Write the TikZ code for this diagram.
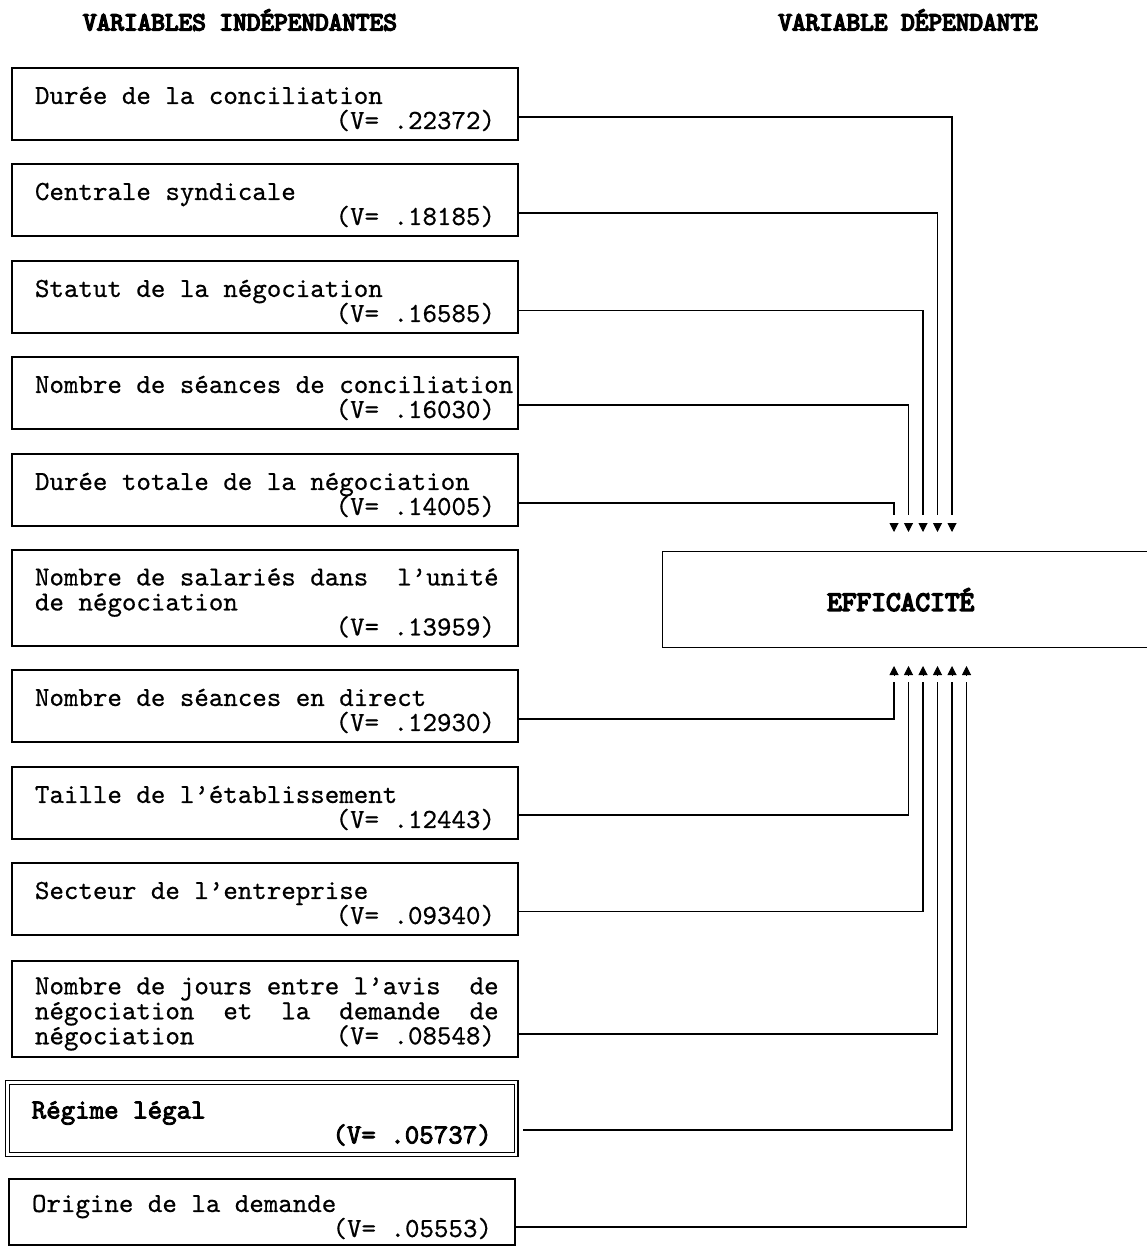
\documentclass[tikz,border=0pt]{standalone}
\usepackage{fontspec}
\usetikzlibrary{arrows.meta}
% typewriter faces: a slightly darkened one for the boxes, heavier ones for titles
\newfontfamily\boxtt{lmmono10-regular.otf}[FakeBold=0.6]
\newfontfamily\heavytt{lmmono10-regular.otf}[FakeBold=3]
\newfontfamily\titlett{lmmono10-regular.otf}[FakeBold=5.5]
% fixed-width text block of a variable box: lines set 25pt apart
\newcommand\vlines[1]{\parbox{460pt}{\lineskiplimit=-100pt\lineskip=0pt\baselineskip=25pt\relax\vspace*{10pt}#1}}
\begin{document}
\begin{tikzpicture}[x=1pt,y=-1pt,
  varbox/.style={draw, line width=1.4pt, anchor=north west, minimum width=506pt,
                 inner sep=0pt, outer sep=0pt, font=\boxtt\fontsize{27.6}{25}\selectfont},
  heading/.style={font=\titlett\fontsize{26}{28}\selectfont, inner sep=0pt},
  conn/.style={line width=1.6pt},
  tip/.style={-{Triangle[length=9pt,width=9pt]}, line width=1pt},
]
\useasboundingbox (0,0) rectangle (1147,1247);

% column headings
\node[heading] (hind) at (240,20) {VARIABLES INDÉPENDANTES};
\node[heading] (hdep) at (908,20) {VARIABLE DÉPENDANTE};

% independent variables
\node[varbox, minimum height=72pt] (b1) at (12,68)
  {\vlines{\mbox{Durée de la conciliation}\\\hspace*{\fill}(V= .22372)}};
\node[varbox, minimum height=72pt] (b2) at (12,164)
  {\vlines{\mbox{Centrale syndicale}\\\hspace*{\fill}(V= .18185)}};
\node[varbox, minimum height=72pt] (b3) at (12,261)
  {\vlines{\mbox{Statut de la négociation}\\\hspace*{\fill}(V= .16585)}};
\node[varbox, minimum height=72pt] (b4) at (12,357)
  {\vlines{\mbox{Nombre de séances de conciliation}\\\hspace*{\fill}(V= .16030)}};
\node[varbox, minimum height=72pt] (b5) at (12,454)
  {\vlines{\mbox{Durée totale de la négociation}\\\hspace*{\fill}(V= .14005)}};
\node[varbox, minimum height=96pt] (b6) at (12,550)
  {\vlines{\mbox{Nombre de salariés dans\ \ l’unité}\\\mbox{de négociation}\\\hspace*{\fill}(V= .13959)}};
\node[varbox, minimum height=72pt] (b7) at (12,670)
  {\vlines{\mbox{Nombre de séances en direct}\\\hspace*{\fill}(V= .12930)}};
\node[varbox, minimum height=72pt] (b8) at (12,767)
  {\vlines{\mbox{Taille de l’établissement}\\\hspace*{\fill}(V= .12443)}};
\node[varbox, minimum height=72pt] (b9) at (12,863)
  {\vlines{\mbox{Secteur de l’entreprise}\\\hspace*{\fill}(V= .09340)}};
\node[varbox, minimum height=96pt] (b10) at (12,961)
  {\vlines{\mbox{Nombre de jours entre l’avis\ \ de}\\\mbox{négociation\ \ et\ \ la\ \ demande\ \ de}\\\mbox{négociation}\hspace{\fill}(V= .08548)}};
\node[varbox, double, double distance=2.6pt, line width=1.2pt, minimum width=508.5pt, minimum height=72pt,
      font=\heavytt\fontsize{27.6}{25}\selectfont] (b11) at (7.5,1082.5)
  {\vlines{\mbox{Régime légal}\\\hspace*{\fill}(V= .05737)}};
\node[varbox, minimum height=66pt] (b12) at (9,1179)
  {\vlines{\mbox{Origine de la demande}\\\hspace*{\fill}(V= .05553)}};

% dependent variable
\node[draw, line width=1.4pt, anchor=north west, minimum width=490pt, minimum height=96pt,
      inner sep=0pt, font=\titlett\fontsize{28}{30}\selectfont] (eff) at (662,551) {\hspace*{-14pt}EFFICACITÉ};

% line ends and arrowheads above the dependent variable
\coordinate (t1) at (952,515);   \coordinate (h1) at (952,523);   \coordinate (k1) at (952,532);
\coordinate (t2) at (937.5,515); \coordinate (h2) at (937.5,523); \coordinate (k2) at (937.5,532);
\coordinate (t3) at (923,515);   \coordinate (h3) at (923,523);   \coordinate (k3) at (923,532);
\coordinate (t4) at (908.5,515); \coordinate (h4) at (908.5,523); \coordinate (k4) at (908.5,532);
\coordinate (t5) at (894,515);   \coordinate (h5) at (894,523);   \coordinate (k5) at (894,532);

% line ends and arrowheads below the dependent variable
\coordinate (t7)  at (894,682);   \coordinate (h7)  at (894,675);   \coordinate (k7)  at (894,666);
\coordinate (t8)  at (908.5,682); \coordinate (h8)  at (908.5,675); \coordinate (k8)  at (908.5,666);
\coordinate (t9)  at (923,682);   \coordinate (h9)  at (923,675);   \coordinate (k9)  at (923,666);
\coordinate (t10) at (937.5,682); \coordinate (h10) at (937.5,675); \coordinate (k10) at (937.5,666);
\coordinate (t11) at (952,682);   \coordinate (h11) at (952,675);   \coordinate (k11) at (952,666);
\coordinate (t12) at (966.5,682); \coordinate (h12) at (966.5,675); \coordinate (k12) at (966.5,666);

% connectors
\draw[conn] ([yshift=-13pt]b1.east) -| (t1);
\draw[conn] ([yshift=-13pt]b2.east) -| (t2);
\draw[conn] ([yshift=-13.5pt]b3.east) -| (t3);
\draw[conn] ([yshift=-12pt]b4.east) -| (t4);
\draw[conn] ([yshift=-13pt]b5.east) -| (t5);
\draw[conn] ([yshift=-13pt]b7.east) -| (t7);
\draw[conn] ([yshift=-12pt]b8.east) -| (t8);
\draw[conn] ([yshift=-12.5pt]b9.east) -| (t9);
\draw[conn] ([yshift=-25pt]b10.east) -| (t10);
\draw[conn] ([xshift=7pt,yshift=-11.5pt]b11.east) -| (t11);
\draw[conn] ([yshift=-15pt]b12.east) -| (t12);

% arrowheads, set apart from their lines
\foreach \i in {1,2,3,4,5,7,8,9,10,11,12} {
  \draw[tip] (h\i) -- (k\i);
}
\end{tikzpicture}
\end{document}
